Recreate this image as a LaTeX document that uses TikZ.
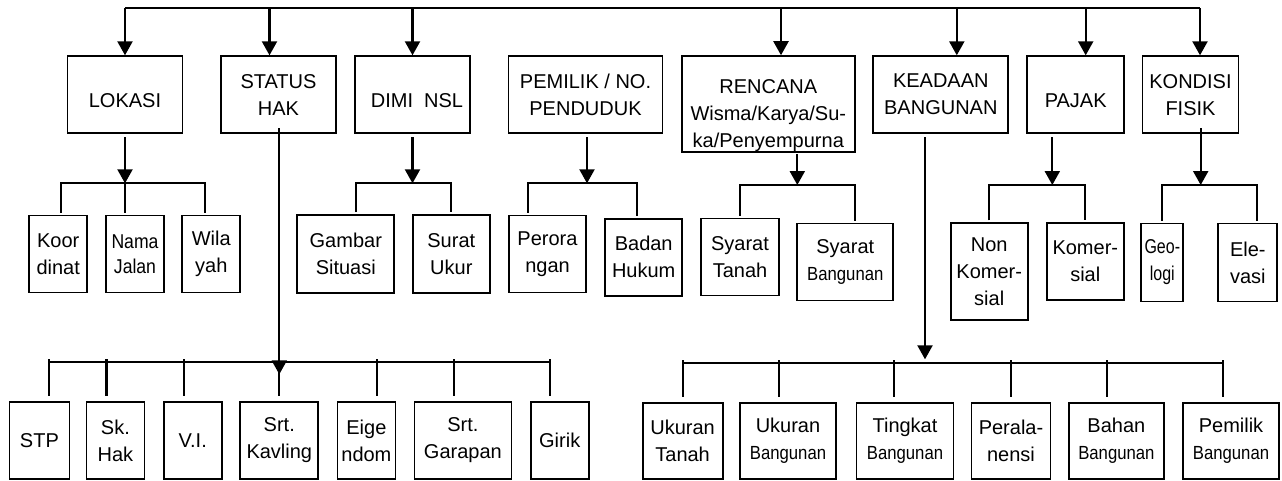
\documentclass[tikz,border=0pt]{standalone}
\usepackage{fontspec}
\setmainfont{Liberation Sans}
\newfontfamily\cond[FakeStretch=0.88]{Liberation Sans}
\newfontfamily\ncond[FakeStretch=0.8]{Liberation Sans}
\usetikzlibrary{arrows.meta}
\newcommand{\sm}{\cond\fontsize{19}{24}\selectfont}
\begin{document}
\begin{tikzpicture}[x=1pt,y=-1pt,line width=2.2pt,>={Triangle[length=14pt,width=15pt]},font=\fontsize{20}{27}\selectfont,
    bx/.style 2 args={draw,line width=1.8pt,align=center,inner sep=1pt,minimum width=#1,minimum height=#2},
    tb/.style={text height=25pt},
    br/.style={shorten <=2pt,shorten >=2pt},
    dr/.style={shorten <=-3pt,shorten >=5pt}]
    \useasboundingbox (0,0) rectangle (1282,480);
    \node[bx={115}{77},tb] (lok) at (125,94.7) {LOKASI};
    \node[bx={115}{77}] (sta) at (278.5,94.7) {STATUS\\HAK};
    \node[bx={115}{77},tb] (dim) at (412.5,94.7) {\hspace*{9pt}DIMI~~NSL};
    \node[bx={154}{77}] (pem) at (585.5,94.7) {PEMILIK / NO.\\PENDUDUK};
    \node[bx={173}{96},text height=90pt] (ren) at (768.3,104.2) {RENCANA\\Wisma/Karya/Su-\\ka/Penyempurna};
    \node[bx={135}{77}] (kea) at (940.8,94.7) {KEADAAN\\BANGUNAN};
    \node[bx={97}{77},tb] (paj) at (1075.7,94.7) {PAJAK};
    \node[bx={96}{77}] (kon) at (1190.5,94.7) {KONDISI\\FISIK};
    \coordinate (tl) at (125,8.3);
    \coordinate (tr) at (1200,8.3);
    \draw (tl) -- (tr);
    \draw[->] (tl) -- (lok.north);
    \draw[->] ([xshift=-9]sta.north |- tl) -- ([xshift=-9]sta.north);
    \draw[->] (dim.north |- tl) -- (dim.north);
    \draw[->] ([xshift=12.7]ren.north |- tl) -- ([xshift=12.7]ren.north);
    \draw[->] ([xshift=16]kea.north |- tl) -- ([xshift=16]kea.north);
    \draw[->] ([xshift=10]paj.north |- tl) -- ([xshift=10]paj.north);
    \draw[->] (tr) -- (kon.north -| tr);
    \node[bx={58}{77}] (koo) at (58.2,254) {Koor\\dinat};
    \node[bx={58}{77},font=\cond\fontsize{20}{25}\selectfont] (nam) at (135,254) {Nama\\Jalan};
    \node[bx={58}{77}] (wil) at (211.3,254) {Wila\\yah};
    \coordinate (lb) at (125,183.3);
    \draw[->,shorten <=3pt] (lok.south) -- (lb);
    \draw[br] ([xshift=2.5]koo.north) |- (lb) -| ([xshift=-6]wil.north);
    \draw[shorten >=2pt] (lb) -- (lb |- nam.north);
    \node[bx={97}{78}] (gam) at (345.8,253.9) {Gambar\\Situasi};
    \node[bx={77}{78}] (sur) at (451.3,253.9) {Surat\\Ukur};
    \coordinate (db) at (412.5,183.3);
    \draw[->,shorten <=3pt] (dim.south) -- (db);
    \draw[br] ([xshift=10.2]gam.north) |- (db) -| (sur.north);
    \node[bx={77}{77}] (per) at (547.5,254) {Perora\\ngan};
    \node[bx={77}{77}] (bad) at (643.7,257.3) {Badan\\Hukum};
    \coordinate (pb) at (587,183.3);
    \draw[->,shorten <=3pt] ([xshift=1.5]pem.south) -- (pb);
    \draw[br] ([xshift=-19.2]per.north) |- (pb) -| ([xshift=-7]bad.north);
    \node[bx={78}{77}] (sya) at (740,257) {Syarat\\Tanah};
    \node[bx={96}{77}] (syb) at (845.3,262) {Syarat\\{\sm Bangunan}};
    \coordinate (rb) at (797.3,185);
    \draw[->,shorten <=1pt] ([xshift=29]ren.south) -- (rb);
    \draw[br] (sya.north) |- (rb) -| ([xshift=9.7]syb.north);
    \node[bx={77}{97}] (non) at (989.2,271.7) {Non\\Komer-\\sial};
    \node[bx={77}{77}] (kom) at (1085.3,261.7) {Komer-\\sial};
    \coordinate (pjb) at (1052.3,185);
    \draw[->,shorten <=3pt] ([xshift=-23.4]paj.south) -- (pjb);
    \draw[br] (non.north) |- (pjb) -| (kom.north);
    \node[bx={42}{78},font=\ncond\fontsize{20}{27}\selectfont] (geo) at (1162.3,262.5) {Geo-\\logi};
    \node[bx={59}{78}] (ele) at (1247.8,262.5) {Ele-\\vasi};
    \coordinate (kfb) at (1200.7,185);
    \draw[->] ([xshift=10.2,yshift=6]kon.south) -- (kfb);
    \draw[br] (geo.north) |- (kfb) -| ([xshift=9]ele.north);
    \node[bx={60}{77}] (stp) at (39.4,440.4) {STP};
    \node[bx={58}{77}] (skh) at (115.4,440.4) {Sk.\\Hak};
    \node[bx={58}{77}] (vi) at (192.7,440.4) {V.I.};
    \node[bx={78}{77}] (skv) at (279.3,440.4) {Srt.\\Kavling};
    \node[bx={58}{77}] (eig) at (366.4,440.4) {Eige\\ndom};
    \node[bx={97}{77}] (sga) at (462.9,440.4) {Srt.\\Garapan};
    \node[bx={58}{77}] (gir) at (559.7,440.4) {Girik};
    \coordinate (sb) at (279.3,362.3);
    \draw[->] ([xshift=0.8,yshift=6]sta.south) -- ([yshift=-12]sb);
    \draw ([xshift=9.4]stp.north |- sb) -- ([xshift=-9.7]gir.north |- sb);
    \draw[dr] ([xshift=9.4]stp.north |- sb) -- ([xshift=9.4]stp.north);
    \draw[dr] ([xshift=-8.9]skh.north |- sb) -- ([xshift=-8.9]skh.north);
    \draw[dr] ([xshift=-8.9]vi.north |- sb) -- ([xshift=-8.9]vi.north);
    \draw[dr] (skv.north |- sb) -- (skv.north);
    \draw[dr] ([xshift=10.5]eig.north |- sb) -- ([xshift=10.5]eig.north);
    \draw[dr] ([xshift=-9.1]sga.north |- sb) -- ([xshift=-9.1]sga.north);
    \draw[dr] ([xshift=-9.7]gir.north |- sb) -- ([xshift=-9.7]gir.north);
    \node[bx={80}{76}] (ukt) at (682.6,441.2) {Ukuran\\Tanah};
    \node[bx={96}{76}] (ukb) at (788,441.2) {Ukuran\\{\sm Bangunan}};
    \node[bx={97}{76}] (tkb) at (905,441.2) {Tingkat\\{\sm Bangunan}};
    \node[bx={79}{76}] (prl) at (1011,441.2) {Perala-\\nensi};
    \node[bx={95}{76}] (bhb) at (1116.4,441.2) {Bahan\\{\sm Bangunan}};
    \node[bx={96}{76}] (pmb) at (1231,441.2) {Pemilik\\{\sm Bangunan}};
    \coordinate (kb) at (925,363.3);
    \draw[->,shorten <=3pt,shorten >=4pt] ([xshift=-15.8]kea.south) -- (kb);
    \draw (ukt.north |- kb) -- ([xshift=-8]pmb.north |- kb);
    \draw[dr] (ukt.north |- kb) -- (ukt.north);
    \draw[dr] ([xshift=-8.7]ukb.north |- kb) -- ([xshift=-8.7]ukb.north);
    \draw[dr] ([xshift=-10.7]tkb.north |- kb) -- ([xshift=-10.7]tkb.north);
    \draw[dr] (prl.north |- kb) -- (prl.north);
    \draw[dr] ([xshift=-9.2]bhb.north |- kb) -- ([xshift=-9.2]bhb.north);
    \draw[dr] ([xshift=-8]pmb.north |- kb) -- ([xshift=-8]pmb.north);
\end{tikzpicture}
\end{document}
